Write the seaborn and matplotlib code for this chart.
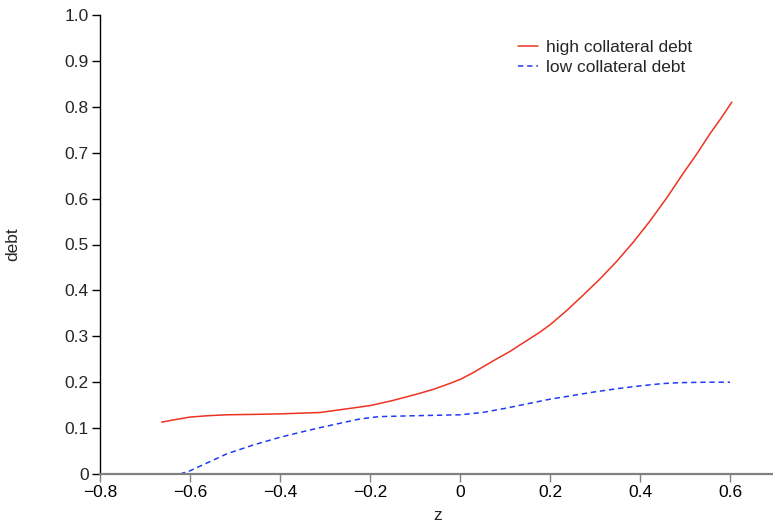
import numpy as np
import pandas as pd
import matplotlib
matplotlib.use("Agg")
import matplotlib.pyplot as plt
import seaborn as sns

# values
z_high = [-0.663, -0.63, -0.6, -0.56, -0.518, -0.45, -0.4, -0.311, -0.244, -0.2, -0.15, -0.096,
          -0.059, -0.022, 0.0, 0.026, 0.052, 0.08, 0.111, 0.152, 0.176, 0.2, 0.237, 0.274, 0.311,
          0.348, 0.385, 0.422, 0.459, 0.496, 0.526, 0.556, 0.58, 0.604]
debt_high = [0.113, 0.119, 0.124, 0.127, 0.129, 0.130, 0.131, 0.134, 0.143, 0.149, 0.160, 0.174,
             0.1845, 0.1975, 0.206, 0.219, 0.234, 0.250, 0.267, 0.293, 0.308, 0.325, 0.356, 0.390,
             0.425, 0.463, 0.505, 0.551, 0.601, 0.655, 0.697, 0.742, 0.775, 0.810]

z_low = [-0.622, -0.6, -0.56, -0.518, -0.46, -0.4, -0.35, -0.311, -0.26, -0.222, -0.18, -0.1,
         0.0, 0.05, 0.1, 0.15, 0.2, 0.25, 0.3, 0.35, 0.4, 0.45, 0.489, 0.55, 0.6]
debt_low = [0.0, 0.007, 0.025, 0.044, 0.063, 0.080, 0.092, 0.101, 0.112, 0.120, 0.125, 0.127,
            0.129, 0.134, 0.143, 0.153, 0.163, 0.171, 0.179, 0.186, 0.192, 0.197, 0.199, 0.200, 0.200]

x_ticks = [-0.8, -0.6, -0.4, -0.2, 0.0, 0.2, 0.4, 0.6]
x_labels = ["\u22120.8", "\u22120.6", "\u22120.4", "\u22120.2", "0", "0.2", "0.4", "0.6"]
y_ticks = [0.0, 0.1, 0.2, 0.3, 0.4, 0.5, 0.6, 0.7, 0.8, 0.9, 1.0]
y_labels = ["0", "0.1", "0.2", "0.3", "0.4", "0.5", "0.6", "0.7", "0.8", "0.9", "1.0"]

sns.set_style("ticks")
plt.rcParams['font.family'] = ['Liberation Sans', 'DejaVu Sans']

fs = 12.5

fig = plt.figure(figsize=(7.73, 5.22), dpi=100)
ax = fig.add_axes([100 / 773, 48 / 522, 675 / 773, 459 / 522])

high_df = pd.DataFrame({'z': z_high, 'debt': debt_high})
low_df = pd.DataFrame({'z': z_low, 'debt': debt_low})

sns.lineplot(data=high_df, x='z', y='debt', ax=ax, color='#ee3322', linewidth=1.1,
             label='high collateral debt')
sns.lineplot(data=low_df, x='z', y='debt', ax=ax, color='#1f3cf5', linewidth=1.1,
             linestyle=(0, (3.5, 2.5)), label='low collateral debt')

ax.set_xlim(-0.8, 0.7)
ax.set_ylim(0, 1.0)
ax.set_xticks(x_ticks)
ax.set_xticklabels(x_labels)
ax.set_yticks(y_ticks)
ax.set_yticklabels(y_labels)

ax.spines['top'].set_visible(False)
ax.spines['right'].set_visible(False)
ax.spines['bottom'].set_color('#808080')
ax.spines['bottom'].set_linewidth(1.6)
ax.spines['left'].set_color('black')
ax.spines['left'].set_linewidth(1.0)
ax.tick_params(axis='x', direction='out', length=6, width=1.0, color='#808080',
               labelsize=fs, pad=2, labelcolor='black')
ax.tick_params(axis='y', direction='out', length=6, width=1.0, color='black',
               labelsize=fs, pad=2)

ax.set_xlabel('z', fontsize=fs, labelpad=6)
ax.set_ylabel('debt', fontsize=fs)
ax.yaxis.set_label_coords(-0.118, 0.5)

leg = ax.legend(loc='upper left', bbox_to_anchor=(0.619, 0.946), frameon=False,
                fontsize=fs, handlelength=1.15, handletextpad=0.45, labelspacing=0.3,
                borderpad=0, borderaxespad=0)

fig.savefig('out.png', dpi=100)
